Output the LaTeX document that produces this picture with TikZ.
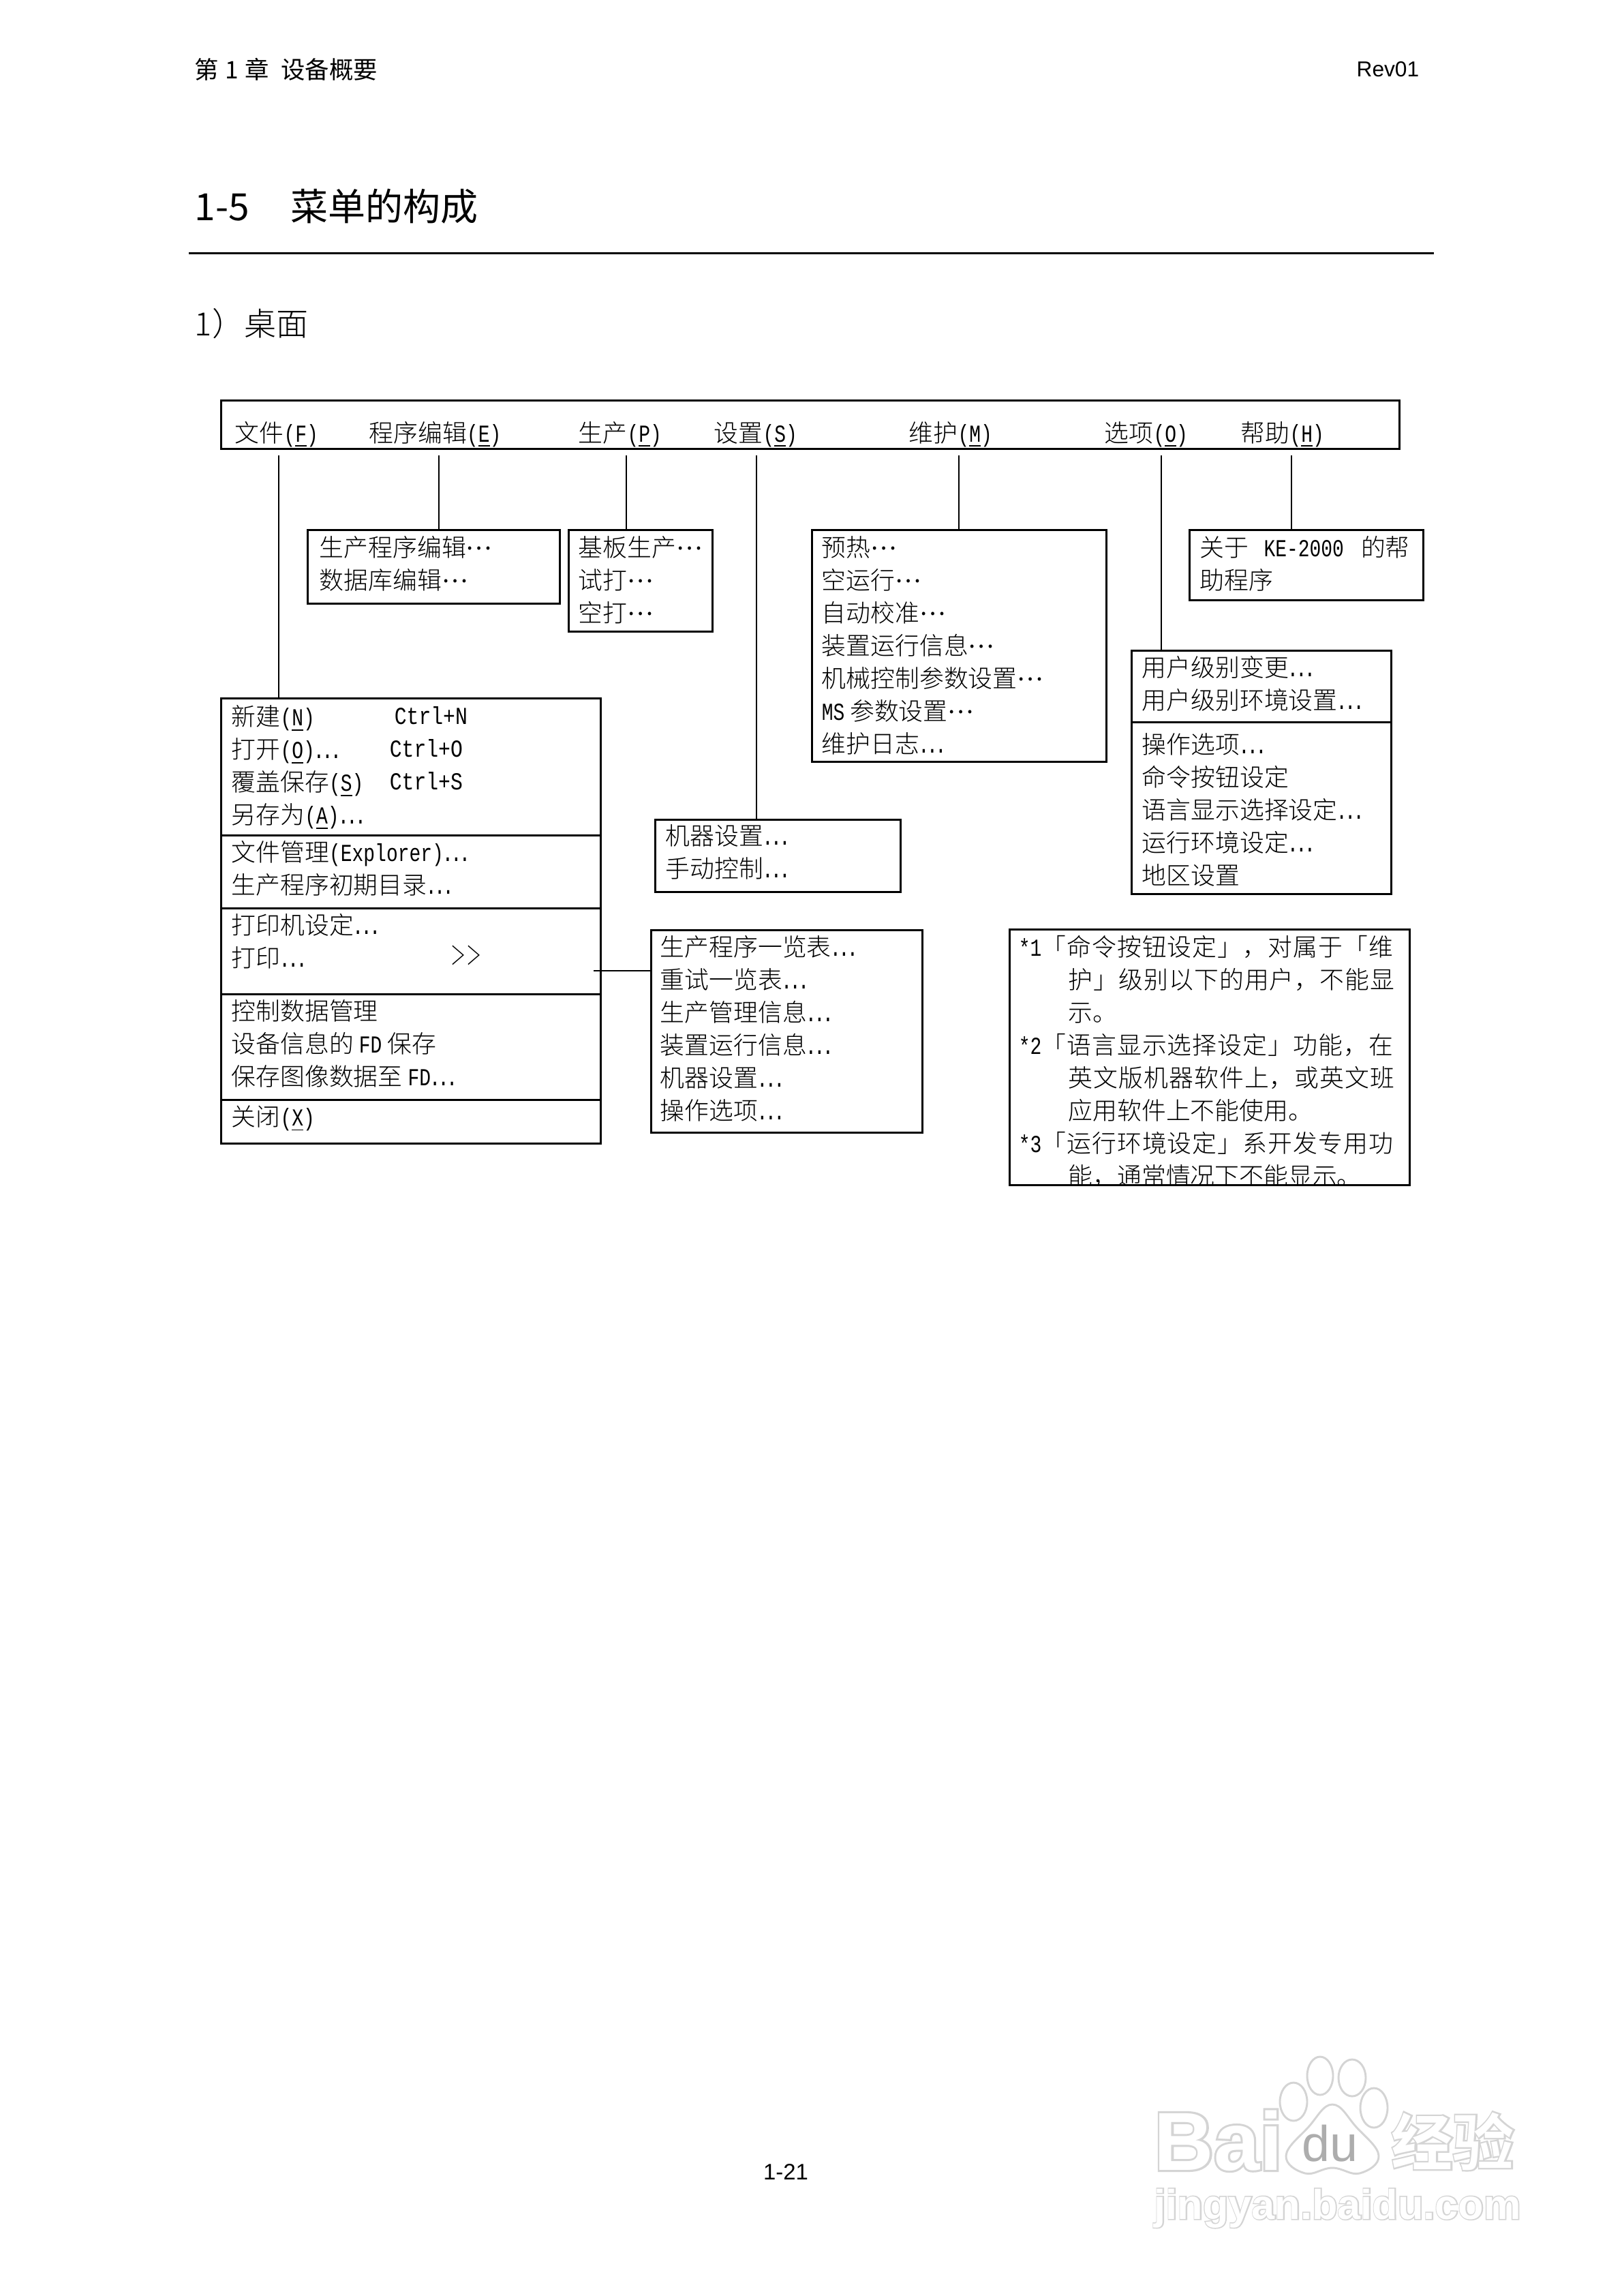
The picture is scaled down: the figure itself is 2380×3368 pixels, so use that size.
\documentclass[tikz,border=0pt]{standalone}
\usepackage{fontspec}
\setmainfont{Noto Sans CJK SC}
\newfontfamily\cjk{Noto Sans CJK SC}
\newfontfamily\cjklight{Noto Sans CJK SC Light}
\newfontfamily\cjkj{Noto Sans CJK SC Light}[LetterSpace=3]
\newfontfamily\cjkbold{Noto Sans CJK SC Bold}
\newfontfamily\wmcjko{Noto Sans CJK SC Bold}[FakeBold=5]
\newfontfamily\lat{Liberation Mono}[FakeStretch=0.78]
\newfontfamily\latw{Liberation Mono}[FakeStretch=0.83]
\newfontfamily\latg{Liberation Sans}
\newfontfamily\wmb{Liberation Sans Bold}
\newfontfamily\wmo{Liberation Sans Bold}[FakeBold=5]
\newfontfamily\wmr{Liberation Sans}
\newcommand{\LL}[1]{{\lat #1}}
\newcommand{\UL}[1]{\underline{\smash{\lat #1}}}
\newcommand{\DDD}{\raisebox{0.3em}{\cjk …}}
\newcommand{\DD}{{\lat\makebox[3pt]{.}\makebox[3pt]{.}\makebox[3pt]{.}}}
\colorlet{wmgrey}{black!17}
\tikzset{x=0.24pt,y=-0.24pt,
  boxframe/.style={draw=black,line width=0.72pt,rectangle,inner sep=0pt,anchor=north west},
  menutext/.style={inner sep=0pt,anchor=north west,align=left,font=\fontsize{8.6pt}{11.52pt}\selectfont\cjklight},
  conn/.style={draw=black,line width=0.65pt},
  barlabel/.style={inner sep=0pt,anchor=base west,font=\fontsize{8.6pt}{11.52pt}\selectfont\cjklight},
  wmout/.style={inner sep=0pt,anchor=base west,text=wmgrey},
  wmin/.style={inner sep=0pt,anchor=base west,text=white},
  wmpaw/.style={draw=wmgrey,line width=0.7pt,fill=white}
}
\newcommand{\fbx}[5]{\path (#2-2,#3) node[boxframe,minimum width={(#4-#2)*0.24pt},minimum height={(#5-#3)*0.24pt}] (#1) {};}
\begin{document}
\begin{tikzpicture}
\useasboundingbox (0,0) rectangle (2380,3368);
\fill[white] (0,0) rectangle (2380,3368);
% header
\node[inner sep=0pt,anchor=base west,font=\fontsize{8.5pt}{10pt}\selectfont\cjk] (hd) at (285,115) {第\hspace{2.2pt}1\hspace{2.2pt}章\hspace{4.3pt}设备概要};
\node[inner sep=0pt,anchor=base east,font=\fontsize{7.6pt}{10pt}\selectfont\latg] (rev) at (2083,112) {Rev01};
\node[inner sep=0pt,anchor=base west,font=\fontsize{13.2pt}{15pt}\selectfont\cjk] (title) at (285,323) {1-5\hspace{14.5pt}菜单的构成};
\coordinate (ruleL) at (277,371); \coordinate (ruleR) at (2104,371);
\draw[line width=0.72pt] (ruleL) -- (ruleR);
\node[inner sep=0pt,anchor=base west,font=\fontsize{11.3pt}{13pt}\selectfont\cjklight] (sec) at (285,492) {1）桌面};
% menu bar
\fbx{bar}{325}{586}{2054}{657}
\node[barlabel] (mF) at (344,648) {文件\LL{(\UL{F})}};
\node[barlabel] (mE) at (541,648) {程序编辑\LL{(\UL{E})}};
\node[barlabel] (mP) at (848,648) {生产\LL{(\UL{P})}};
\node[barlabel] (mS) at (1047,648) {设置\LL{(\UL{S})}};
\node[barlabel] (mM) at (1333,648) {维护\LL{(\UL{M})}};
\node[barlabel] (mO) at (1620,648) {选项\LL{(\UL{O})}};
\node[barlabel] (mH) at (1820,648) {帮助\LL{(\UL{H})}};
% boxes
\fbx{bE}{452}{776}{822}{884}
\node[menutext] (tE) at (468,786) {生产程序编辑\DDD\\数据库编辑\DDD};
\fbx{bP}{835}{776}{1046}{925}
\node[menutext] (tP) at (848,786) {基板生产\DDD\\试打\DDD\\空打\DDD};
\fbx{bM}{1192}{776}{1624}{1116}
\node[menutext] (tM) at (1205,786) {预热\DDD\\空运行\DDD\\自动校准\DDD\\装置运行信息\DDD\\机械控制参数设置\DDD\\\LL{MS} 参数设置\DDD\\维护日志\DD};
\fbx{bH}{1746}{776}{2089}{879}
\node[menutext] (tH) at (1760,786) {关于\hspace{5.3pt}\LL{KE-2000}\hspace{6pt}的帮\\助程序};
\fbx{bO1}{1661}{953}{2042}{1058}
\node[menutext] (tO1) at (1675,961) {用户级别变更\DD\\用户级别环境设置\DD};
\fbx{bO2}{1661}{1058}{2042}{1310}
\node[menutext] (tO2) at (1675,1075) {操作选项\DD\\命令按钮设定\\语言显示选择设定\DD\\运行环境设定\DD\\地区设置};
\fbx{bS}{962}{1201}{1322}{1307}
\node[menutext] (tS) at (976,1209) {机器设置\DD\\手动控制\DD};
\fbx{f1}{325}{1023}{882}{1224}
\node[menutext] (tf1) at (339,1034) {新建\LL{(\UL{N})}\\打开\LL{(\UL{O})}\DD\\覆盖保存\LL{(\UL{S})}\\另存为\LL{(\UL{A})}\DD};
\node[menutext] (kN) at (578,1036) {{\latw Ctrl+N}};
\node[menutext] (kO) at (571,1084) {{\latw Ctrl+O}};
\node[menutext] (kS) at (571,1132) {{\latw Ctrl+S}};
\fbx{f2}{325}{1224}{882}{1331}
\node[menutext] (tf2) at (339,1233) {文件管理\LL{(Explorer)}\DD\\生产程序初期目录\DD};
\fbx{f3}{325}{1331}{882}{1457}
\node[menutext] (tf3) at (339,1340) {打印机设定\DD\\打印\DD};
\node[menutext] (gg) at (661,1386) {\scalebox{0.62}[1.05]{＞＞}};
\fbx{f4}{325}{1457}{882}{1612}
\node[menutext] (tf4) at (339,1466) {控制数据管理\\设备信息的 \LL{FD} 保存\\保存图像数据至 \LL{FD}\DD};
\fbx{f5}{325}{1612}{882}{1676}
\node[menutext] (tf5) at (339,1621) {关闭\LL{(\UL{X})}};
\fbx{pr}{956}{1363}{1354}{1660}
\node[menutext] (tpr) at (968,1372) {生产程序一览表\DD\\重试一览表\DD\\生产管理信息\DD\\装置运行信息\DD\\机器设置\DD\\操作选项\DD};
% notes
\fbx{nt}{1482}{1362}{2069}{1737}
\begin{scope}
\clip (1480,1362) rectangle (2067,1736);
\node[menutext] (tnt) at (1494,1371) {\LL{*1}{\cjkj 「命令按钮设定」，对属于「维}\\\hspace*{17.5pt}{\cjkj 护」级别以下的用户，不能显}\\\hspace*{17.5pt}示。\\\LL{*2}{\cjkj 「语言显示选择设定」功能，在}\\\hspace*{17.5pt}{\cjkj 英文版机器软件上，或英文班}\\\hspace*{17.5pt}应用软件上不能使用。\\\LL{*3}{\cjkj 「运行环境设定」系开发专用功}\\\hspace*{17.5pt}能，通常情况下不能显示。};
\end{scope}
% connectors
\coordinate (cF) at (409,668); \coordinate (cE) at (644,668); \coordinate (cP) at (919,668);
\coordinate (cS) at (1110,668); \coordinate (cM) at (1407,668); \coordinate (cO) at (1704,668); \coordinate (cH) at (1895,668);
\coordinate (cPrint) at (871,1424);
\draw[conn] (cF) -- (cF |- f1.north);
\draw[conn] (cE) -- (cE |- bE.north);
\draw[conn] (cP) -- (cP |- bP.north);
\draw[conn] (cS) -- (cS |- bS.north);
\draw[conn] (cM) -- (cM |- bM.north);
\draw[conn] (cO) -- (cO |- bO1.north);
\draw[conn] (cH) -- (cH |- bH.north);
\draw[conn] (cPrint) -- (cPrint -| pr.west);
% footer
\node[inner sep=0pt,anchor=base,font=\fontsize{7.9pt}{10pt}\selectfont\latg] (pg) at (1153,3197) {1-21};
% watermark
\node[wmout,font=\fontsize{29pt}{30pt}\selectfont\wmo] (wmBo) at (1693,3183) {Bai};
\node[wmin,font=\fontsize{29pt}{30pt}\selectfont\wmb] (wmB) at (1693,3183) {Bai};
\path[wmpaw] (1898,3083) ellipse [x radius=20,y radius=28];
\path[wmpaw] (1937,3045) ellipse [x radius=19,y radius=28];
\path[wmpaw] (1984,3048) ellipse [x radius=20,y radius=27];
\path[wmpaw] (2016,3092) ellipse [x radius=20,y radius=29];
\path[wmpaw] plot[smooth cycle,tension=0.7] coordinates {(1955,3087) (1990,3120) (2023,3162) (1995,3188) (1955,3180) (1915,3188) (1887,3162) (1920,3120)};
\node[inner sep=0pt,anchor=base west,text=black!32,font=\fontsize{17.7pt}{20pt}\selectfont\wmr] (wmD) at (1910,3170) {du};
\node[wmout,font=\fontsize{21.6pt}{24pt}\selectfont\wmcjko] (wmCo) at (2041,3176) {经验};
\node[wmin,font=\fontsize{21.6pt}{24pt}\selectfont\cjkbold] (wmC) at (2041,3176) {经验};
\node[wmout,font=\fontsize{14.7pt}{18pt}\selectfont\wmo] (wmUo) at (1693,3255) {jingyan.baidu.com};
\node[wmin,font=\fontsize{14.7pt}{18pt}\selectfont\wmb] (wmU) at (1693,3255) {jingyan.baidu.com};
\end{tikzpicture}
\end{document}
